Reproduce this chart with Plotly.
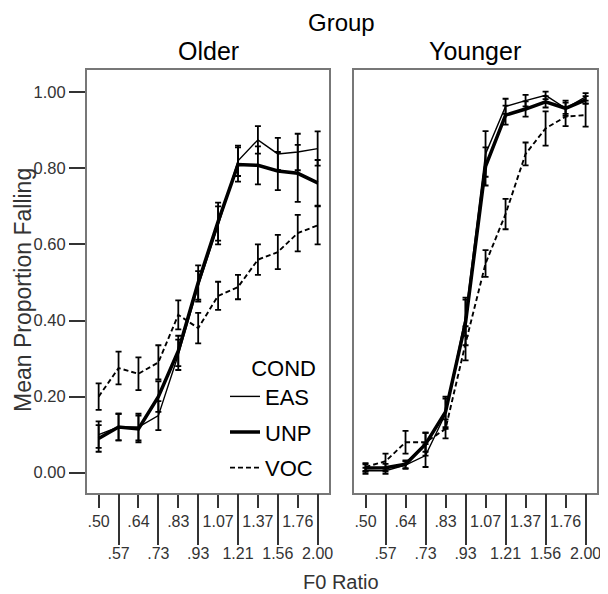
import plotly.graph_objects as go

# ---------------- data ----------------
categories = ['.50', '.57', '.64', '.73', '.83', '.93', '1.07', '1.21', '1.37', '1.56', '1.76', '2.00']
conditions = ['EAS', 'UNP', 'VOC']
groups = ['Older', 'Younger']

older_eas = [0.10, 0.12, 0.12, 0.15, 0.31, 0.49, 0.65, 0.82, 0.875, 0.838, 0.843, 0.852]
older_eas_err = [0.035, 0.035, 0.035, 0.038, 0.04, 0.04, 0.05, 0.04, 0.036, 0.042, 0.048, 0.045]
older_unp = [0.09, 0.12, 0.115, 0.20, 0.32, 0.50, 0.66, 0.81, 0.808, 0.793, 0.787, 0.762]
older_unp_err = [0.035, 0.035, 0.035, 0.04, 0.04, 0.045, 0.05, 0.045, 0.05, 0.05, 0.075, 0.06]
older_voc = [0.20, 0.275, 0.26, 0.29, 0.415, 0.38, 0.465, 0.488, 0.56, 0.58, 0.63, 0.65]
older_voc_err = [0.035, 0.043, 0.043, 0.045, 0.038, 0.04, 0.037, 0.032, 0.04, 0.045, 0.048, 0.05]

younger_eas = [0.005, 0.005, 0.02, 0.045, 0.155, 0.41, 0.838, 0.963, 0.978, 0.992, 0.958, 0.988]
younger_eas_err = [0.008, 0.008, 0.01, 0.03, 0.04, 0.05, 0.06, 0.02, 0.015, 0.01, 0.015, 0.01]
younger_unp = [0.012, 0.013, 0.022, 0.075, 0.16, 0.395, 0.805, 0.94, 0.956, 0.975, 0.958, 0.98]
younger_unp_err = [0.01, 0.01, 0.01, 0.03, 0.04, 0.06, 0.05, 0.025, 0.02, 0.015, 0.02, 0.01]
younger_voc = [0.015, 0.03, 0.08, 0.08, 0.115, 0.34, 0.55, 0.68, 0.838, 0.905, 0.936, 0.94]
younger_voc_err = [0.01, 0.02, 0.03, 0.025, 0.025, 0.045, 0.035, 0.04, 0.03, 0.045, 0.025, 0.03]

y_tickvals = [0.0, 0.2, 0.4, 0.6, 0.8, 1.0]
y_ticktext = ['0.00', '0.20', '0.40', '0.60', '0.80', '1.00']

# ---------------- layout constants ----------------
OFF = 8  # page body margin
W, H = 608 - OFF, 594 - OFF
FONT = "Liberation Sans, Arial, sans-serif"
x_idx = list(range(len(categories)))
even_idx = x_idx[0::2]
odd_idx = x_idx[1::2]
XR = [-0.6, 11.57]
YR = [-0.0534, 1.0586]

def px_x(p):
    return (p - OFF) / W

def px_y(p):
    return 1 - (p - OFF) / H

dom_left = [px_x(86.7), px_x(329)]
dom_right = [px_x(353.5), px_x(597)]
dom_y = [px_y(493), px_y(70)]

styles = {
    'EAS': dict(width=1.4, dash='solid'),
    'UNP': dict(width=3.5, dash='solid'),
    'VOC': dict(width=1.9, dash='5px,3px'),
}

data = {
    'Older': {'EAS': (older_eas, older_eas_err), 'UNP': (older_unp, older_unp_err), 'VOC': (older_voc, older_voc_err)},
    'Younger': {'EAS': (younger_eas, younger_eas_err), 'UNP': (younger_unp, younger_unp_err), 'VOC': (younger_voc, younger_voc_err)},
}
axes = {'Older': ('x', 'y', 'x3'), 'Younger': ('x2', 'y2', 'x4')}

fig = go.Figure()
for gi, g in enumerate(groups):
    xa, ya, xo = axes[g]
    for c in conditions:
        vals, errs = data[g][c]
        fig.add_trace(go.Scatter(
            x=x_idx, y=vals, mode='lines', name=c, legendgroup=c,
            showlegend=(gi == 0),
            line=dict(color='black', **styles[c]),
            error_y=dict(type='data', array=errs, visible=True, color='black', thickness=1.8, width=3),
            xaxis=xa, yaxis=ya,
        ))
    # carrier trace for the overlay axis (long ticks)
    fig.add_trace(go.Scatter(x=[None], y=[None], xaxis=xo, yaxis=ya, showlegend=False, hoverinfo='skip'))

tick_font = dict(family=FONT, size=16, color='#333')

def base_x(domain, anchor):
    return dict(domain=domain, anchor=anchor, range=XR, showgrid=False, zeroline=False,
                showline=True, mirror=True, linecolor='#777', linewidth=1.5,
                tickmode='array', tickvals=even_idx, ticktext=[categories[i] for i in even_idx],
                ticks='outside', ticklen=13, tickwidth=1.8, tickcolor='#333',
                tickfont=tick_font, fixedrange=True)

def over_x(over, anchor):
    return dict(overlaying=over, anchor=anchor, side='bottom', range=XR, showgrid=False, zeroline=False,
                showline=False, tickmode='array', tickvals=odd_idx, ticktext=[categories[i] for i in odd_idx],
                ticks='outside', ticklen=51, tickwidth=1.8, tickcolor='#333',
                tickfont=tick_font, ticklabelstandoff=-5, fixedrange=True)

fig.update_layout(
    width=W, height=H,
    margin=dict(l=0, r=0, t=0, b=0, autoexpand=False),
    paper_bgcolor='white', plot_bgcolor='white',
    font=dict(family=FONT, color='#000'),
    xaxis=base_x(dom_left, 'y'),
    xaxis2=base_x(dom_right, 'y2'),
    xaxis3=over_x('x', 'y'),
    xaxis4=over_x('x2', 'y2'),
    yaxis=dict(domain=dom_y, anchor='x', range=YR, showgrid=False, zeroline=False,
               showline=True, mirror=True, linecolor='#777', linewidth=1.5,
               tickmode='array', tickvals=y_tickvals, ticktext=y_ticktext,
               ticks='outside', ticklen=16, tickwidth=1.8, tickcolor='#333',
               tickfont=dict(family=FONT, size=16.5, color='#333'), fixedrange=True),
    yaxis2=dict(domain=dom_y, anchor='x2', range=YR, showgrid=False, zeroline=False,
                showline=True, mirror=True, linecolor='#777', linewidth=1.5,
                showticklabels=False, ticks='', fixedrange=True),
    showlegend=True,
    legend=dict(
        x=px_x(318), xanchor='right', y=px_y(489), yanchor='bottom',
        bgcolor='rgba(0,0,0,0)', borderwidth=0,
        font=dict(family=FONT, size=22, color='#000'),
        title=dict(text='COND', side='top right', font=dict(family=FONT, size=22, color='#000')),
        tracegroupgap=4, itemwidth=30, traceorder='grouped',
    ),
    annotations=[
        dict(text='Group', x=px_x(341), y=1, xref='paper', yref='paper', showarrow=False,
             xanchor='center', yanchor='top', borderpad=0, font=dict(family=FONT, size=24, color='#000')),
        dict(text='Older', x=px_x(208), y=px_y(51), xref='paper', yref='paper', showarrow=False,
             xanchor='center', yanchor='middle', font=dict(family=FONT, size=25, color='#000')),
        dict(text='Younger', x=px_x(475), y=px_y(51), xref='paper', yref='paper', showarrow=False,
             xanchor='center', yanchor='middle', font=dict(family=FONT, size=25, color='#000')),
        dict(text='Mean Proportion Falling', x=px_x(23), y=px_y(290), xref='paper', yref='paper',
             showarrow=False, textangle=-90, xanchor='center', yanchor='middle',
             font=dict(family=FONT, size=23, color='#333')),
        dict(text='F0 Ratio', x=px_x(341), y=0, xref='paper', yref='paper', showarrow=False,
             xanchor='center', yanchor='bottom', borderpad=0, font=dict(family=FONT, size=20, color='#333')),
    ],
)

fig.write_html("out.html")
